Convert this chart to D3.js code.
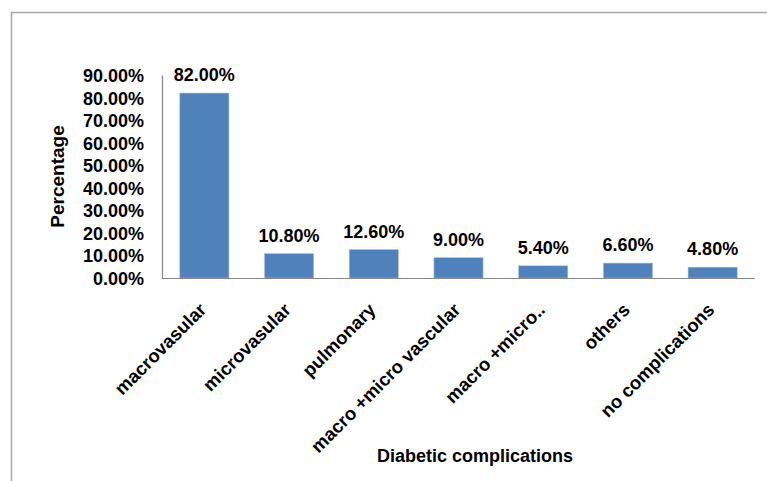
<!DOCTYPE html>
<html>
<head>
<meta charset="utf-8">
<script src="https://cdn.jsdelivr.net/npm/d3@7"></script>
<style>
  body { margin: 0; background: #fff; }
  text { font-family: "Liberation Sans", Arial, sans-serif; font-weight: bold; fill: #000; }
</style>
</head>
<body>
<svg></svg>
<script>
const categories = ['macrovasular', 'microvasular', 'pulmonary', 'macro +micro vascular', 'macro +micro..', 'others', 'no complications']
const values = [82.0, 10.8, 12.6, 9.0, 5.4, 6.6, 4.8]
const yTicks = [0, 10, 20, 30, 40, 50, 60, 70, 80, 90]

const width = 767, height = 481
const margin = {left: 162, right: 12, top: 75, bottom: 203}

const svg = d3.select('svg').attr('width', width).attr('height', height)

// outer frame (only top and left visible)
svg.append('path')
  .attr('d', `M11.5,${height} V12.5 H${width}`)
  .attr('fill', 'none')
  .attr('stroke', '#a6a6a6')
  .attr('stroke-width', 1.5)

const x = d3.scaleBand()
  .domain(categories)
  .range([margin.left, width - margin.right])
  .paddingInner(0.42)
  .paddingOuter(0.21)

const y = d3.scaleLinear()
  .domain([0, 90])
  .range([height - margin.bottom, margin.top])

// bars
svg.append('g').selectAll('rect')
  .data(values)
  .enter().append('rect')
  .attr('x', (d, i) => x(categories[i]))
  .attr('y', d => y(d))
  .attr('width', x.bandwidth())
  .attr('height', d => y(0) - y(d))
  .attr('fill', '#4f81bd')
  .attr('stroke', '#a7c0de')
  .attr('stroke-width', 0.6)

// value labels
svg.append('g').selectAll('text')
  .data(values)
  .enter().append('text')
  .attr('x', (d, i) => x(categories[i]) + x.bandwidth() / 2)
  .attr('y', d => y(d) - 12)
  .attr('text-anchor', 'middle')
  .style('font-size', '18px')
  .text(d => d.toFixed(2) + '%')

// y axis
const yAxis = svg.append('g')
  .attr('transform', `translate(${margin.left},0)`)
  .call(d3.axisLeft(y).tickValues(yTicks).tickSize(0).tickPadding(18).tickFormat(d => d.toFixed(2) + '%'))
yAxis.select('.domain').attr('stroke', '#868686').attr('stroke-width', 1.2)
yAxis.selectAll('text').style('font-size', '18px').attr('dy', '0.36em')

// x axis
const xAxis = svg.append('g')
  .attr('transform', `translate(0,${y(0)})`)
  .call(d3.axisBottom(x).tickSize(0).tickSizeOuter(0).tickPadding(0))
xAxis.select('.domain').attr('stroke', '#868686').attr('stroke-width', 1.2)
  .attr('d', `M${margin.left},0.5H${width - margin.right}`)
xAxis.selectAll('text')
  .style('font-size', '18.5px')
  .attr('text-anchor', 'end')
  .attr('dy', null)
  .attr('y', 0)
  .attr('transform', 'translate(3,33) rotate(-45)')

// axis titles
svg.append('text')
  .attr('transform', `translate(64,${(y(0) + y(90)) / 2}) rotate(-90)`)
  .attr('text-anchor', 'middle')
  .style('font-size', '19px')
  .text('Percentage')

svg.append('text')
  .attr('x', 475)
  .attr('y', 462)
  .attr('text-anchor', 'middle')
  .style('font-size', '18px')
  .text('Diabetic complications')
</script>
</body>
</html>
